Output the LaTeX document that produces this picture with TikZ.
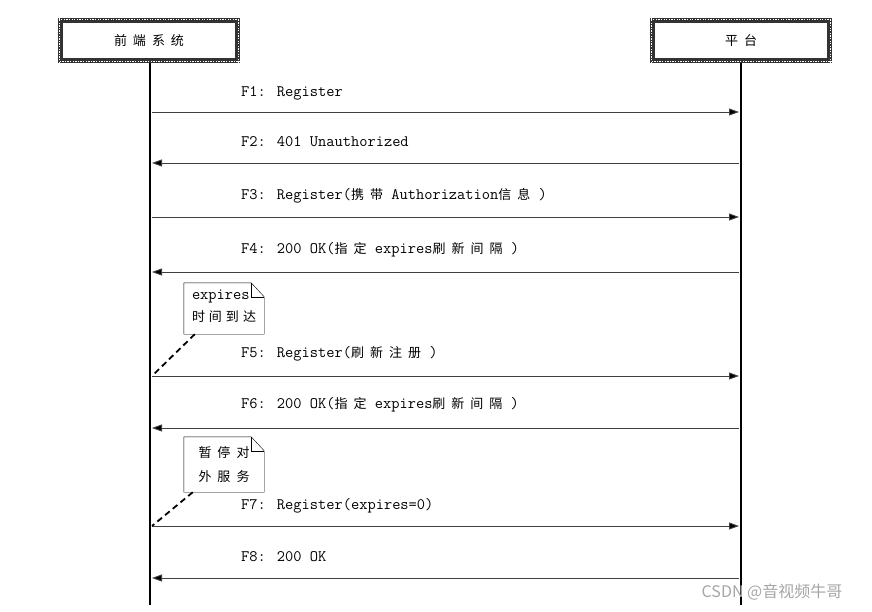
\documentclass[tikz,border=0pt]{standalone}
\usepackage{fontspec}
\usepackage{tikz}
\usetikzlibrary{arrows.meta}
\setmainfont{Latin Modern Mono}
\newfontfamily\cjk{Noto Sans CJK SC}
\newcommand{\zh}[1]{{\cjk\fontsize{13}{22}\selectfont\spaceskip=6pt\relax #1}}

\begin{document}
\begin{tikzpicture}[x=1pt,y=-1pt,
    hdr/.style={draw=black!80, line width=5pt, fill=white, minimum width=177pt, minimum height=40pt,
      font=\fontsize{14}{16}\selectfont},
    checker/.style={white, line width=1.3pt, dash pattern=on 1.3pt off 1.3pt},
    lifeline/.style={line width=2.5pt},
    msg/.style={draw=black!75, line width=0.9pt, -{Triangle[length=10pt,width=7pt,fill=black]}},
    lbl/.style={anchor=west, inner sep=0pt, font=\fontsize{16}{18}\selectfont},
    note/.style={minimum width=80pt, inner sep=0pt, align=left, font=\fontsize{16}{22}\selectfont},
    link/.style={line width=1.8pt, dash pattern=on 6pt off 4pt}]
    \useasboundingbox (0,0) rectangle (872,612);

    % Headers
    \node[hdr] (fe) at (149,40.5) {\zh{前 端 系 统}};
    \node[hdr] (pf) at (741,40.5) {\zh{平 台}};
    \draw[checker] ([shift={(-1.3pt,1.3pt)}]fe.south west) rectangle ([shift={(1.3pt,-1.3pt)}]fe.north east);
    \draw[checker, dash phase=1.3pt] ([shift={(1.3pt,-1.3pt)}]fe.south west) rectangle ([shift={(-1.3pt,1.3pt)}]fe.north east);
    \draw[checker] ([shift={(-1.3pt,1.3pt)}]pf.south west) rectangle ([shift={(1.3pt,-1.3pt)}]pf.north east);
    \draw[checker, dash phase=1.3pt] ([shift={(1.3pt,-1.3pt)}]pf.south west) rectangle ([shift={(-1.3pt,1.3pt)}]pf.north east);

    % Lifelines
    \coordinate (fe-end) at (150,605);
    \coordinate (pf-end) at (741,605);
    \draw[lifeline] (fe.south -| fe-end) -- (fe-end);
    \draw[lifeline] (pf.south -| pf-end) -- (pf-end);

    % Message ends
    \coordinate (f1-l) at (152,112);  \coordinate (f1-r) at (739,112);
    \coordinate (f2-l) at (152,163);  \coordinate (f2-r) at (739,163);
    \coordinate (f3-l) at (152,217);  \coordinate (f3-r) at (739,217);
    \coordinate (f4-l) at (152,272);  \coordinate (f4-r) at (739,272);
    \coordinate (f5-l) at (152,376);  \coordinate (f5-r) at (739,376);
    \coordinate (f6-l) at (152,428);  \coordinate (f6-r) at (739,428);
    \coordinate (f7-l) at (152,526);  \coordinate (f7-r) at (739,526);
    \coordinate (f8-l) at (152,578);  \coordinate (f8-r) at (739,578);

    % Messages
    \draw[msg] (f1-l) -- (f1-r);
    \draw[msg] (f2-r) -- (f2-l);
    \draw[msg] (f3-l) -- (f3-r);
    \draw[msg] (f4-r) -- (f4-l);
    \draw[msg] (f5-l) -- (f5-r);
    \draw[msg] (f6-r) -- (f6-l);
    \draw[msg] (f7-l) -- (f7-r);
    \draw[msg] (f8-r) -- (f8-l);

    % Labels
    \node[lbl] (l1) at (241,93) {F1: Register};
    \node[lbl] (l2) at (241,142) {F2: 401 Unauthorized};
    \node[lbl] (l3) at (241,196) {F3: Register(\zh{携 带} Authorization\zh{信 息} )};
    \node[lbl] (l4) at (241,250) {F4: 200 OK(\zh{指 定} expires\zh{刷 新 间 隔} )};
    \node[lbl] (l5) at (241,354) {F5: Register(\zh{刷 新 注 册} )};
    \node[lbl] (l6) at (241,405) {F6: 200 OK(\zh{指 定} expires\zh{刷 新 间 隔} )};
    \node[lbl] (l7) at (241,506) {F7: Register(expires=0)};
    \node[lbl] (l8) at (241,557) {F8: 200 OK};

    % Notes
    \node[note, minimum height=51pt] (n1) at (224,308.5) {};
    \draw[fill=white] (n1.south west) -- (n1.north west) -- ([xshift=-13pt]n1.north east)
      -- ([yshift=-14pt]n1.north east) -- (n1.south east) -- cycle;
    \draw ([xshift=-13pt]n1.north east) -- ([xshift=-13pt,yshift=-14pt]n1.north east)
      -- ([yshift=-14pt]n1.north east);
    \node[note] at ([yshift=2pt]n1) {expires\\\zh{时\hspace{4pt}间\hspace{4pt}到\hspace{4pt}达}};
    \draw[link] ([xshift=11pt]n1.south west) -- (f5-l);

    \node[note, minimum height=55pt] (n2) at (224,464.5) {};
    \draw[fill=white] (n2.south west) -- (n2.north west) -- ([xshift=-13pt]n2.north east)
      -- ([yshift=-14pt]n2.north east) -- (n2.south east) -- cycle;
    \draw ([xshift=-13pt]n2.north east) -- ([xshift=-13pt,yshift=-14pt]n2.north east)
      -- ([yshift=-14pt]n2.north east);
    \node[note, font=\fontsize{13}{24}\selectfont] at (n2) {\zh{暂 停 对}\\\zh{外 服 务}};
    \draw[link] ([xshift=9pt]n2.south west) -- (f7-l);

    % Watermark
    \node[text=black!35, font=\cjk\fontsize{16}{18}\selectfont] (wm) at (772,592) {CSDN @音视频牛哥};
\end{tikzpicture}
\end{document}
